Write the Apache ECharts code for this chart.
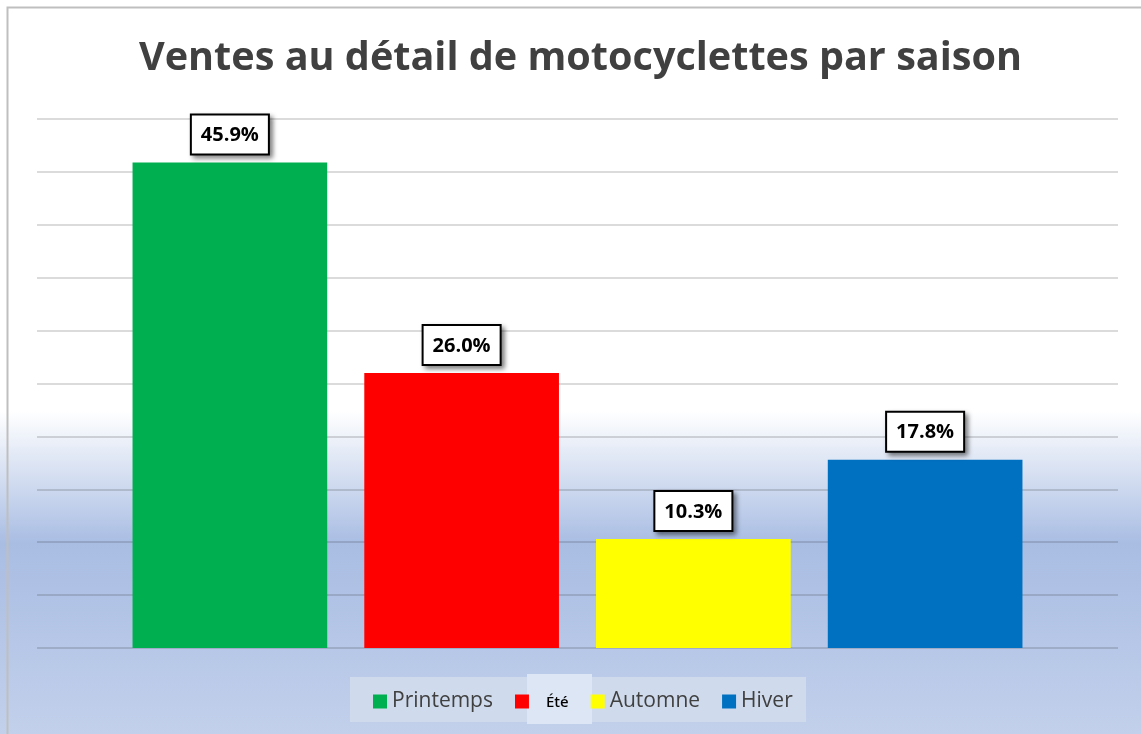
<!DOCTYPE html>
<html>
<head>
<meta charset="utf-8">
<script src="https://cdn.jsdelivr.net/npm/echarts@6/dist/echarts.min.js"></script>
<style>
  html, body { margin: 0; padding: 0; background: #fff; }
  #chart { width: 1141px; height: 734px; }
</style>
</head>
<body>
<div id="chart"></div>
<script>
var seasons = ['Printemps', 'Été', 'Automne', 'Hiver'];
var shares = [45.9, 26.0, 10.3, 17.8];
var colors = ['#00b050', '#ff0000', '#ffff00', '#0070c0'];

var chart = echarts.init(document.getElementById('chart'));

// one series per season, stacked so each bar sits centred in its slot
var series = seasons.map(function (name, i) {
  var data = seasons.map(function (s, j) { return j === i ? shares[i] : '-'; });
  return {
    name: name,
    type: 'bar',
    stack: 'all',
    xAxisIndex: 1,
    yAxisIndex: 1,
    barCategoryGap: '16%',
    itemStyle: { color: colors[i] },
    data: data,
    label: {
      show: true,
      position: 'top',
      distance: 9,
      formatter: function (p) { return p.value.toFixed(1) + '%'; },
      color: '#000',
      fontFamily: 'Open Sans',
      fontWeight: 'bold',
      fontSize: 20,
      lineHeight: 20,
      backgroundColor: '#fff',
      borderColor: '#000',
      borderWidth: 2,
      padding: [10, 9, 8, 9],
      shadowColor: 'rgba(0,0,0,0.45)',
      shadowBlur: 5,
      shadowOffsetX: 3,
      shadowOffsetY: 3
    }
  };
});

chart.setOption({
  animation: false,
  backgroundColor: {
    type: 'linear', x: 0, y: 0, x2: 0, y2: 1,
    colorStops: [
      { offset: 0, color: '#ffffff' },
      { offset: 0.56, color: '#ffffff' },
      { offset: 0.74, color: '#a9bde3' },
      { offset: 1, color: '#c2d0eb' }
    ]
  },
  title: {
    text: 'Ventes au détail de motocyclettes par saison',
    left: 134,
    top: 34,
    textStyle: {
      fontFamily: 'Open Sans',
      fontWeight: 'bold',
      fontSize: 39.6,
      color: '#404040'
    }
  },
  graphic: [
    { type: 'rect', z: 0, shape: { x: 7.5, y: 7.5, width: 1140, height: 740 },
      style: { fill: 'none', stroke: '#bfbfbf', lineWidth: 2 } },
    { type: 'rect', z: 1, shape: { x: 350, y: 677, width: 456, height: 45 },
      style: { fill: '#cfdbed' } },
    { type: 'rect', z: 2, shape: { x: 527, y: 674, width: 65, height: 50 },
      style: { fill: '#dce6f4' } }
  ],
  legend: {
    z: 10,
    data: seasons,
    left: 368,
    top: 686,
    itemWidth: 14,
    itemHeight: 14,
    itemGap: 22,
    icon: 'rect',
    textStyle: {
      fontFamily: 'Open Sans',
      fontSize: 21,
      color: '#404040',
      rich: {
        e: { fontFamily: 'Noto Sans', fontSize: 15, fontWeight: 500, color: '#000', padding: [2, 0, 0, 12] }
      }
    },
    formatter: function (name) { return name === 'Été' ? '{e|' + name + '}' : name; }
  },
  grid: [
    { left: 37, right: 23, top: 119, bottom: 86 },
    { left: 114, right: 100, top: 119, bottom: 86 }
  ],
  xAxis: [
    { gridIndex: 0, type: 'category', data: seasons, show: false },
    { gridIndex: 1, type: 'category', data: seasons, show: false }
  ],
  yAxis: [
    { gridIndex: 0, type: 'value', min: 0, max: 50, interval: 5,
      axisLabel: { show: false }, axisLine: { show: false }, axisTick: { show: false },
      splitLine: { lineStyle: { color: 'rgba(40,40,40,0.22)', width: 1.5 } } },
    { gridIndex: 1, type: 'value', min: 0, max: 50, interval: 5, show: false }
  ],
  series: series
});
</script>
</body>
</html>
